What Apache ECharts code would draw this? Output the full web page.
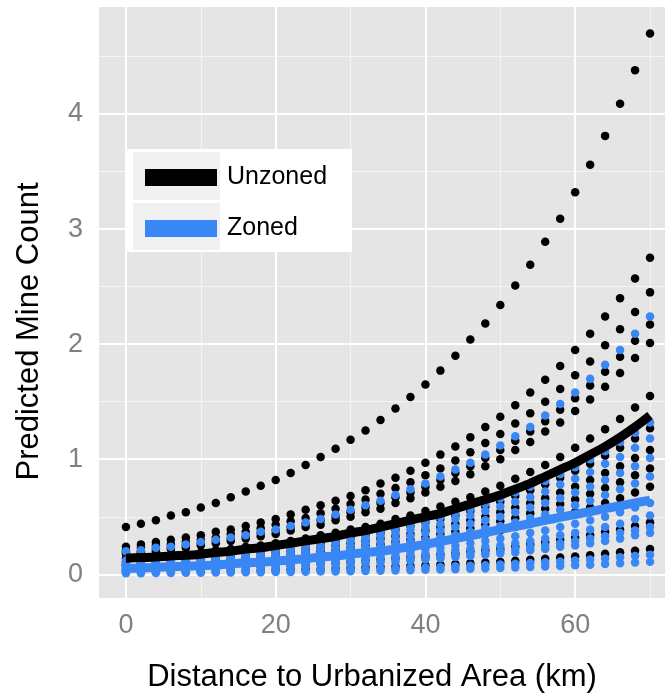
<!DOCTYPE html>
<html>
<head>
<meta charset="utf-8">
<script src="https://cdn.jsdelivr.net/npm/echarts@6/dist/echarts.min.js"></script>
<style>
  html, body { margin: 0; padding: 0; background: #fff; }
  #chart { width: 665px; height: 700px; }
</style>
</head>
<body>
<div id="chart"></div>
<script>
// ---- data: predicted mine count vs distance (km) ----
const distance = [0,2,4,6,8,10,12,14,16,18,20,22,24,26,28,30,32,34,36,38,40,42,44,46,48,50,52,54,56,58,60,62,64,66,68,70];

// Unzoned: one row of dots per covariate profile
const unzoned1  = [0.41,0.44,0.47,0.51,0.54,0.58,0.62,0.67,0.72,0.77,0.82,0.88,0.95,1.02,1.09,1.17,1.25,1.34,1.44,1.54,1.65,1.77,1.90,2.04,2.18,2.34,2.51,2.69,2.89,3.09,3.32,3.56,3.81,4.09,4.38,4.70];
const unzoned2  = [0.24,0.26,0.28,0.30,0.32,0.34,0.37,0.39,0.42,0.45,0.48,0.52,0.56,0.60,0.64,0.68,0.73,0.79,0.84,0.90,0.97,1.04,1.11,1.19,1.28,1.37,1.47,1.58,1.69,1.81,1.95,2.09,2.24,2.40,2.57,2.75];
const unzoned3  = [0.21,0.23,0.25,0.26,0.28,0.30,0.32,0.35,0.37,0.40,0.43,0.46,0.49,0.53,0.57,0.61,0.65,0.70,0.75,0.80,0.86,0.92,0.99,1.06,1.14,1.22,1.31,1.40,1.50,1.61,1.73,1.85,1.99,2.13,2.28,2.45];
const unzoned4  = [0.19,0.20,0.22,0.23,0.25,0.27,0.29,0.31,0.33,0.36,0.38,0.41,0.44,0.47,0.50,0.54,0.58,0.62,0.67,0.71,0.76,0.82,0.88,0.94,1.01,1.08,1.16,1.24,1.33,1.43,1.53,1.64,1.76,1.89,2.03,2.17];
const unzoned5  = [0.18,0.19,0.20,0.22,0.23,0.25,0.27,0.29,0.31,0.33,0.35,0.38,0.41,0.43,0.47,0.50,0.54,0.57,0.62,0.66,0.71,0.76,0.81,0.87,0.94,1.00,1.08,1.15,1.24,1.32,1.42,1.52,1.63,1.75,1.88,2.01];
const unzoned6  = [0.14,0.15,0.16,0.17,0.18,0.19,0.21,0.22,0.24,0.25,0.27,0.29,0.31,0.34,0.36,0.39,0.41,0.44,0.48,0.51,0.55,0.59,0.63,0.67,0.72,0.77,0.83,0.89,0.95,1.02,1.10,1.18,1.26,1.35,1.45,1.55];
const unzoned7  = [0.11,0.12,0.13,0.14,0.15,0.16,0.17,0.18,0.19,0.21,0.22,0.24,0.26,0.27,0.29,0.32,0.34,0.36,0.39,0.42,0.45,0.48,0.51,0.55,0.59,0.63,0.68,0.73,0.78,0.84,0.90,0.96,1.03,1.10,1.18,1.27];
const unzoned8  = [0.09,0.10,0.11,0.12,0.12,0.13,0.14,0.15,0.16,0.18,0.19,0.20,0.22,0.23,0.25,0.27,0.29,0.31,0.33,0.35,0.38,0.41,0.44,0.47,0.50,0.54,0.58,0.62,0.66,0.71,0.76,0.82,0.88,0.94,1.01,1.08];
const unzoned9  = [0.08,0.09,0.09,0.10,0.11,0.11,0.12,0.13,0.14,0.15,0.16,0.17,0.19,0.20,0.21,0.23,0.25,0.26,0.28,0.30,0.32,0.35,0.37,0.40,0.43,0.46,0.49,0.53,0.57,0.61,0.65,0.70,0.75,0.80,0.86,0.92];
const unzoned10 = [0.07,0.07,0.08,0.08,0.09,0.09,0.10,0.11,0.12,0.12,0.13,0.14,0.15,0.16,0.18,0.19,0.20,0.22,0.23,0.25,0.27,0.29,0.31,0.33,0.35,0.38,0.41,0.44,0.47,0.50,0.54,0.58,0.62,0.66,0.71,0.76];
const unzoned11 = [0.04,0.04,0.05,0.05,0.05,0.06,0.06,0.06,0.07,0.07,0.08,0.08,0.09,0.10,0.10,0.11,0.12,0.13,0.14,0.15,0.16,0.17,0.18,0.20,0.21,0.22,0.24,0.26,0.28,0.30,0.32,0.34,0.37,0.39,0.42,0.45];
const unzoned12 = [0.019,0.021,0.022,0.024,0.025,0.027,0.029,0.031,0.034,0.036,0.039,0.041,0.044,0.047,0.051,0.055,0.059,0.063,0.067,0.072,0.077,0.083,0.089,0.095,0.102,0.109,0.117,0.126,0.135,0.145,0.155,0.166,0.178,0.191,0.205,0.220];
const unzonedFit = [0.14,0.145,0.15,0.16,0.165,0.175,0.19,0.20,0.22,0.23,0.25,0.27,0.29,0.31,0.33,0.36,0.38,0.41,0.44,0.47,0.50,0.53,0.57,0.61,0.65,0.69,0.74,0.79,0.85,0.91,0.97,1.04,1.11,1.19,1.28,1.38];

// Zoned
const zoned1  = [0.20,0.21,0.23,0.24,0.26,0.28,0.30,0.32,0.34,0.37,0.39,0.42,0.45,0.48,0.52,0.56,0.60,0.64,0.69,0.74,0.79,0.85,0.91,0.97,1.04,1.12,1.20,1.28,1.38,1.48,1.58,1.70,1.82,1.95,2.09,2.24];
const zoned2  = [0.12,0.12,0.13,0.14,0.15,0.16,0.18,0.19,0.20,0.22,0.23,0.25,0.27,0.29,0.31,0.33,0.35,0.38,0.40,0.43,0.46,0.50,0.53,0.57,0.61,0.66,0.71,0.76,0.81,0.87,0.93,1.00,1.07,1.15,1.23,1.32];
const zoned3  = [0.10,0.11,0.12,0.13,0.14,0.15,0.16,0.17,0.18,0.19,0.21,0.22,0.24,0.25,0.27,0.29,0.31,0.34,0.36,0.39,0.41,0.44,0.48,0.51,0.55,0.59,0.63,0.67,0.72,0.78,0.83,0.89,0.96,1.02,1.10,1.18];
const zoned4  = [0.09,0.09,0.10,0.11,0.12,0.13,0.13,0.14,0.15,0.17,0.18,0.19,0.20,0.22,0.23,0.25,0.27,0.29,0.31,0.33,0.36,0.38,0.41,0.44,0.47,0.50,0.54,0.58,0.62,0.66,0.71,0.76,0.82,0.88,0.94,1.01];
const zoned5  = [0.07,0.08,0.09,0.09,0.10,0.11,0.11,0.12,0.13,0.14,0.15,0.16,0.17,0.18,0.20,0.21,0.23,0.24,0.26,0.28,0.30,0.32,0.34,0.37,0.40,0.42,0.45,0.49,0.52,0.56,0.60,0.64,0.69,0.74,0.79,0.85];
const zoned6  = [0.05,0.06,0.06,0.07,0.07,0.08,0.08,0.09,0.09,0.10,0.11,0.12,0.12,0.13,0.14,0.15,0.17,0.18,0.19,0.20,0.22,0.23,0.25,0.27,0.29,0.31,0.33,0.36,0.38,0.41,0.44,0.47,0.50,0.54,0.58,0.62];
const zoned7  = [0.04,0.05,0.05,0.05,0.06,0.06,0.07,0.07,0.08,0.08,0.09,0.10,0.10,0.11,0.12,0.13,0.14,0.15,0.16,0.17,0.18,0.19,0.21,0.22,0.24,0.25,0.27,0.29,0.31,0.34,0.36,0.39,0.41,0.44,0.48,0.51];
const zoned8  = [0.04,0.04,0.04,0.04,0.05,0.05,0.05,0.06,0.06,0.07,0.07,0.08,0.08,0.09,0.10,0.10,0.11,0.12,0.13,0.13,0.14,0.15,0.17,0.18,0.19,0.20,0.22,0.24,0.25,0.27,0.29,0.31,0.33,0.36,0.38,0.41];
const zoned9  = [0.03,0.03,0.04,0.04,0.04,0.04,0.05,0.05,0.05,0.06,0.06,0.07,0.07,0.08,0.08,0.09,0.10,0.10,0.11,0.12,0.13,0.14,0.15,0.16,0.17,0.18,0.19,0.21,0.22,0.24,0.25,0.27,0.29,0.31,0.34,0.36];
const zoned10 = [0.015,0.016,0.017,0.018,0.020,0.021,0.023,0.024,0.026,0.028,0.030,0.032,0.034,0.037,0.039,0.042,0.045,0.049,0.052,0.056,0.060,0.064,0.069,0.074,0.079,0.085,0.091,0.098,0.105,0.112,0.120,0.129,0.138,0.148,0.159,0.170];
const zoned11 = [0.010,0.010,0.011,0.012,0.013,0.014,0.015,0.016,0.017,0.018,0.019,0.021,0.022,0.024,0.025,0.027,0.029,0.031,0.034,0.036,0.039,0.041,0.044,0.048,0.051,0.055,0.059,0.063,0.067,0.072,0.078,0.083,0.089,0.096,0.102,0.110];
const zonedFit = [0.05,0.055,0.06,0.065,0.07,0.075,0.08,0.09,0.10,0.105,0.115,0.125,0.135,0.15,0.16,0.175,0.19,0.20,0.22,0.24,0.26,0.285,0.31,0.335,0.36,0.39,0.415,0.44,0.47,0.495,0.52,0.545,0.57,0.595,0.62,0.645];

// axis ticks / grid positions (data units)
const xTicks = [0, 20, 40, 60];
const xMinor = [10, 30, 50, 70];
const yTicks = [0, 1, 2, 3, 4];
const yMinor = [0.5, 1.5, 2.5, 3.5, 4.5];

const COLORS = {
  unzoned: '#000000',
  zoned: '#3987f5',
  panel: '#e5e5e5',
  gridMajor: '#ffffff',
  gridMinor: '#f4f4f4',
  tickText: '#808080',
  tick: '#8a8a8a',
};
const FONT = '"Liberation Sans", Arial, sans-serif';

// ---- helpers ----
function toPairs(vals) {
  return distance.map((d, i) => [d, vals[i]]);
}
function flatPairs(rows) {
  return rows.reduce((acc, r) => acc.concat(toPairs(r)), []);
}

const unzonedRows = [unzoned1, unzoned2, unzoned3, unzoned4, unzoned5, unzoned6,
  unzoned7, unzoned8, unzoned9, unzoned10, unzoned11, unzoned12];
const zonedRows = [zoned1, zoned2, zoned3, zoned4, zoned5, zoned6,
  zoned7, zoned8, zoned9, zoned10, zoned11];

const major = { color: COLORS.gridMajor, width: 2, type: 'solid' };
const minor = { color: COLORS.gridMinor, width: 1, type: 'solid' };
const gridLines = []
  .concat(xMinor.map(v => ({ xAxis: v, lineStyle: minor })))
  .concat(yMinor.map(v => ({ yAxis: v, lineStyle: minor })))
  .concat(xTicks.map(v => ({ xAxis: v, lineStyle: major })))
  .concat(yTicks.map(v => ({ yAxis: v, lineStyle: major })));

const chart = echarts.init(document.getElementById('chart'), null, { renderer: 'canvas' });

const option = {
  animation: false,
  backgroundColor: '#ffffff',
  grid: {
    left: 99, right: 0, top: 7, bottom: 102,
    show: true, backgroundColor: COLORS.panel, borderWidth: 0,
    containLabel: false, outerBoundsMode: 'none',
  },
  xAxis: {
    type: 'value', min: -3.6, max: 72,
    axisLine: { show: false },
    axisTick: { show: true, customValues: xTicks, length: 6, lineStyle: { color: COLORS.tick, width: 1.5 } },
    axisLabel: { customValues: xTicks, margin: 14, fontSize: 27, color: COLORS.tickText, fontFamily: FONT },
    splitLine: { show: false },
    name: 'Distance to Urbanized Area (km)',
    nameLocation: 'middle', nameGap: 64,
    nameTextStyle: { fontSize: 31, color: '#000', fontFamily: FONT, padding: [0, 20, 0, 0] },
  },
  yAxis: {
    type: 'value', min: -0.206, max: 4.93,
    axisLine: { show: false },
    axisTick: { show: true, customValues: yTicks, length: 6, lineStyle: { color: COLORS.tick, width: 1.5 } },
    axisLabel: { customValues: yTicks, margin: 16, fontSize: 27, color: COLORS.tickText, fontFamily: FONT },
    splitLine: { show: false },
    name: 'Predicted Mine Count',
    nameLocation: 'middle', nameGap: 54,
    nameTextStyle: { fontSize: 31, color: '#000', fontFamily: FONT, padding: [0, 58, 0, 0] },
  },
  legend: {
    orient: 'vertical', left: 125, top: 149,
    padding: [16, 25, 10, 20],
    itemWidth: 72, itemHeight: 17, itemGap: 26,
    selectedMode: false, z: 20,
    textStyle: { fontSize: 25, color: '#000', fontFamily: FONT, lineHeight: 25, padding: [0, 0, 0, 5] },
    data: [
      { name: 'Unzoned', icon: 'rect', itemStyle: { color: COLORS.unzoned, opacity: 1 } },
      { name: 'Zoned', icon: 'rect', itemStyle: { color: COLORS.zoned, opacity: 1 } },
    ],
  },
  graphic: [
    // legend box + key backgrounds
    { type: 'rect', z: 10, shape: { x: 125, y: 149, width: 227, height: 103 }, style: { fill: '#ffffff' } },
    { type: 'rect', z: 11, shape: { x: 133, y: 152, width: 87, height: 48 }, style: { fill: '#f0f0f0' } },
    { type: 'rect', z: 11, shape: { x: 133, y: 203, width: 87, height: 47 }, style: { fill: '#f0f0f0' } },
  ],
  series: [
    {
      // panel grid lines
      name: 'grid', type: 'line', z: 1, silent: true,
      showSymbol: false, lineStyle: { opacity: 0 },
      data: [[0, 0]],
      markLine: {
        silent: true, symbol: 'none', animation: false, z: 1,
        label: { show: false },
        data: gridLines,
      },
    },
    {
      name: 'Unzoned', type: 'scatter', z: 2, silent: true,
      symbol: 'circle', symbolSize: 8.5,
      itemStyle: { color: COLORS.unzoned, opacity: 1 },
      data: flatPairs(unzonedRows),
    },
    {
      name: 'Zoned', type: 'scatter', z: 2, silent: true,
      symbol: 'circle', symbolSize: 8.5,
      itemStyle: { color: COLORS.zoned, opacity: 1 },
      data: flatPairs(zonedRows),
    },
    {
      name: 'Unzoned', type: 'line', z: 3, silent: true,
      showSymbol: false, smooth: 0.3,
      lineStyle: { color: COLORS.unzoned, width: 9 },
      itemStyle: { color: COLORS.unzoned },
      data: toPairs(unzonedFit),
    },
    {
      name: 'Zoned', type: 'line', z: 3, silent: true,
      showSymbol: false, smooth: 0.3,
      lineStyle: { color: COLORS.zoned, width: 9 },
      itemStyle: { color: COLORS.zoned },
      data: toPairs(zonedFit),
    },
  ],
};

chart.setOption(option);
</script>
</body>
</html>
